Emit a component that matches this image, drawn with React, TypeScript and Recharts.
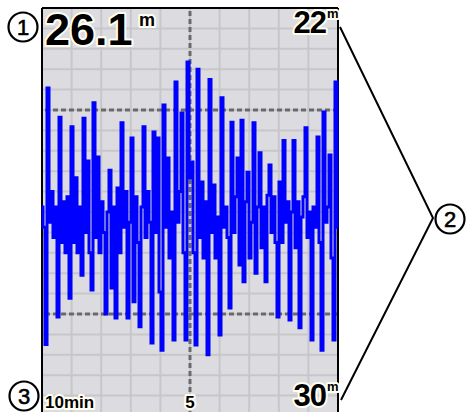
import { LineChart, Line, XAxis, YAxis, CartesianGrid, ReferenceLine } from "recharts";

// depth readings (m), oldest on the left, newest on the right
const DEPTHS = [
  25.9, 26.3, 28.6, 23.57, 26.2, 25.6, 26.5, 25.9, 28.06, 24.14,
  26.6, 25.8, 26.8, 25.7, 27.69, 24.33, 26.6, 25.33, 26.8, 25.9,
  27.24, 24.16, 26.4, 25.0, 26.8, 27.53, 23.86, 26.5, 24.92, 26.8,
  25.8, 26.4, 28.0, 26.0, 25.18, 27.49, 25.9, 28.08, 25.53, 26.8,
  24.25, 26.3, 25.6, 28.08, 26.2, 24.55, 27.76, 25.7, 26.6, 28.25,
  25.9, 24.33, 26.5, 25.6, 26.2, 28.57, 24.43, 26.4, 24.55, 27.57,
  28.71, 23.9, 26.3, 24.94, 26.9, 26.0, 28.51, 23.45, 26.2, 25.6,
  24.06, 26.8, 28.51, 23.06, 25.33, 25.02, 26.8, 28.61, 23.2, 26.5,
  25.41, 26.9, 25.8, 28.8, 23.4, 26.4, 25.47, 26.9, 26.1, 28.41,
  23.76, 26.3, 25.9, 26.5, 27.88, 24.24, 26.4, 25.7, 24.94, 27.04,
  24.2, 27.37, 25.8, 25.22, 26.9, 26.2, 24.25, 27.2, 25.9, 24.84,
  26.7, 25.9, 27.37, 25.67, 25.08, 26.4, 25.7, 26.6, 28.06, 25.41,
  26.6, 24.6, 26.2, 25.8, 28.12, 26.0, 24.6, 26.7, 25.8, 28.27,
  26.1, 25.7, 24.35, 26.5, 26.0, 28.51, 25.9, 26.3, 24.53, 26.6,
  28.71, 24.04, 26.2, 25.9, 24.88, 26.9, 28.51, 23.45, 26.3,
];

const SPAN_MIN = 10;
const MINUTE_TICKS = [-10, -9, -8, -7, -6, -5, -4, -3, -2, -1, 0];
const MINUTE_LABELS: Record<string, string> = { "-10": "10min", "-5": "5" };
const DEPTH_TICKS = [
  22, 22.4, 22.8, 23.2, 23.6, 24, 24.4, 24.8, 25.2, 25.6, 26,
  26.4, 26.8, 27.2, 27.6, 28, 28.4, 28.8, 29.2, 29.6, 30,
];
const DEPTH_LABELS: Record<string, string> = { "22": "22", "30": "30" };
const DASHED_DEPTHS = [24, 28];
const CURRENT_DEPTH = "26.1";
const UNIT = "m";

const data = DEPTHS.map((depth, i) => ({
  t: -SPAN_MIN + (i * SPAN_MIN) / (DEPTHS.length - 1),
  depth,
}));

const FONT = "'Liberation Sans', Arial, sans-serif";
const halo = { stroke: "#fffef0", strokeWidth: 4, paintOrder: "stroke" as const, strokeLinejoin: "round" as const };

const TimeTick = ({ x, y, payload }: any) => {
  const label = MINUTE_LABELS[String(payload.value)];
  if (!label) return null;
  const start = payload.value === -10;
  return (
    <text
      x={start ? x + 3 : x}
      y={y - 8}
      textAnchor={start ? "start" : "middle"}
      fontFamily={FONT}
      fontWeight="bold"
      fontSize={17}
      fill="#000"
      {...halo}
    >
      {label}
    </text>
  );
};

const DepthTick = ({ x, y, payload }: any) => {
  const label = DEPTH_LABELS[String(payload.value)];
  if (!label) return null;
  const top = payload.value === 22;
  const base = top ? y + 25 : y - 10;
  return (
    <g fontFamily={FONT} fontWeight="bold" fill="#000">
      <text x={x - 12} y={base} textAnchor="end" fontSize={31} letterSpacing={-1} {...halo}>
        {label}
      </text>
      <text x={x - 11} y={base - 15} fontSize={13} {...halo}>
        {UNIT}
      </text>
    </g>
  );
};

const Marker = ({ cx, cy, n }: { cx: number; cy: number; n: string }) => (
  <g>
    <circle cx={cx} cy={cy} r={14.5} fill="#fff" stroke="#000" strokeWidth={2.2} />
    <text x={cx} y={cy + 8} textAnchor="middle" fontFamily={FONT} fontSize={22} fill="#000" stroke="#000" strokeWidth={0.6}>
      {n}
    </text>
  </g>
);

export default function App() {
  return (
    <div style={{ position: "absolute", left: 0, top: 0, width: 468, height: 412, background: "#fff", overflow: "hidden" }}>
      <LineChart width={468} height={412} data={data} margin={{ top: 8, right: 129, bottom: -5, left: 42 }}>
        <CartesianGrid fill="#dcdbdf" stroke="#c7c7cb" strokeWidth={2} />
        <XAxis
          dataKey="t"
          type="number"
          domain={[-SPAN_MIN, 0]}
          ticks={MINUTE_TICKS}
          interval={0}
          height={1}
          tickSize={0}
          tickMargin={0}
          axisLine={false}
          tick={(props: any) => <TimeTick {...props} />}
        />
        <YAxis
          orientation="right"
          type="number"
          reversed
          domain={[22, 30]}
          ticks={DEPTH_TICKS}
          interval={0}
          width={1}
          tickSize={0}
          tickMargin={0}
          axisLine={false}
          tick={(props: any) => <DepthTick {...props} />}
        />
        <ReferenceLine x={-5} stroke="#6a6a6a" strokeWidth={3} strokeDasharray="5 3" />
        {DASHED_DEPTHS.map((d) => (
          <ReferenceLine key={d} y={d} stroke="#6a6a6a" strokeWidth={3} strokeDasharray="5 3" />
        ))}
        <ReferenceLine x={-SPAN_MIN} stroke="#000" strokeWidth={2} />
        <ReferenceLine x={0} stroke="#000" strokeWidth={2} />
        <ReferenceLine y={22} stroke="#000" strokeWidth={2} />
        <Line
          type="step"
          dataKey="depth"
          stroke="#0000ff"
          strokeWidth={3}
          dot={false}
          isAnimationActive={false}
        />
      </LineChart>
      <svg width={468} height={412} style={{ position: "absolute", left: 0, top: 0, pointerEvents: "none" }}>
        <text x={45} y={45} fontFamily={FONT} fontWeight="bold" fontSize={45} fill="#000" {...halo}>
          {CURRENT_DEPTH}
        </text>
        <text x={139} y={26} fontFamily={FONT} fontWeight="bold" fontSize={18} fill="#000" {...halo}>
          {UNIT}
        </text>
        <polyline points="340,27 433,218 341,400" fill="none" stroke="#000" strokeWidth={2} />
        <Marker cx={23} cy={27} n="1" />
        <Marker cx={450} cy={219} n="2" />
        <Marker cx={24} cy={396} n="3" />
      </svg>
    </div>
  );
}
